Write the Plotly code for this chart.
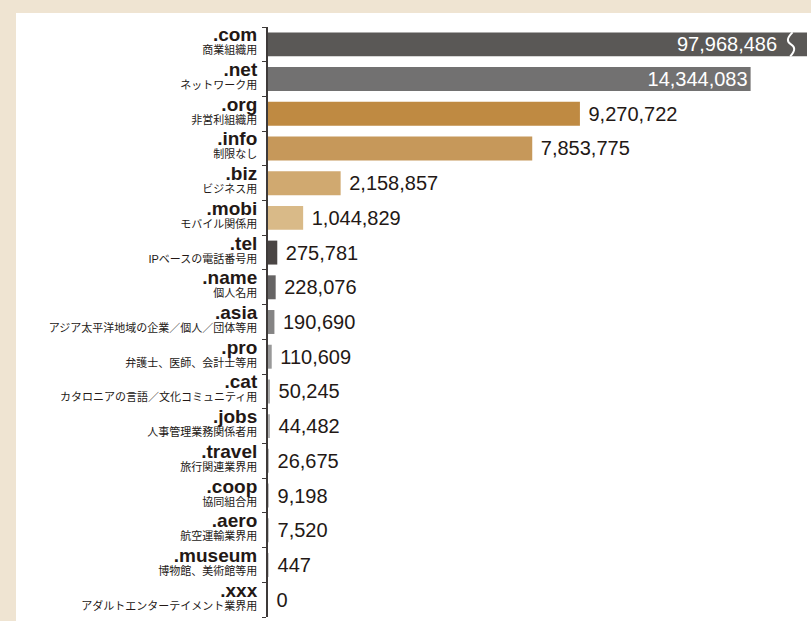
import plotly.graph_objects as go

domains = [".com", ".net", ".org", ".info", ".biz", ".mobi", ".tel", ".name", ".asia",
           ".pro", ".cat", ".jobs", ".travel", ".coop", ".aero", ".museum", ".xxx"]
descriptions = ["商業組織用", "ネットワーク用", "非営利組織用", "制限なし", "ビジネス用",
                "モバイル関係用", "IPベースの電話番号用", "個人名用",
                "アジア太平洋地域の企業／個人／団体等用", "弁護士、医師、会計士等用",
                "カタロニアの言語／文化コミュニティ用", "人事管理業務関係者用",
                "旅行関連業界用", "協同組合用", "航空運輸業界用", "博物館、美術館等用",
                "アダルトエンターテイメント業界用"]
counts = [97968486, 14344083, 9270722, 7853775, 2158857, 1044829, 275781, 228076,
          190690, 110609, 50245, 44482, 26675, 9198, 7520, 447, 0]
colors = ["#5a5856", "#727171", "#bf8a42", "#c6985a", "#d0a970", "#d9ba88",
          "#4a4544", "#666464", "#858484", "#999999", "#a8a8a8", "#b0b0b0",
          "#b8b8b8", "#bebebe", "#c4c4c4", "#cccccc", "#d0d0d0"]

X_MAX = 16.02e6
TEXT = "#231815"
BEIGE = "#efe4d2"
FONT = "Liberation Sans, Arial, Noto Sans CJK JP, sans-serif"
VAL_SIZE = 20

ticktext = [f"<span style='font-size:19px'><b>{d}</b></span><br>"
            f"<span style='font-size:11px'>{j}</span>" for d, j in zip(domains, descriptions)]

texts = []
positions = []
for i, v in enumerate(counts):
    if v > X_MAX:
        texts.append("")
        positions.append("none")
    elif i < 2:
        texts.append(f"{v:,}")
        positions.append("inside")
    else:
        texts.append(f" {v:,}")
        positions.append("outside")

fig = go.Figure(go.Bar(
    y=domains, x=counts, orientation="h",
    marker=dict(color=colors, line=dict(width=0)),
    text=texts, textposition=positions,
    insidetextanchor="end",
    insidetextfont=dict(color="white", size=VAL_SIZE, family=FONT),
    outsidetextfont=dict(color=TEXT, size=VAL_SIZE, family=FONT),
    cliponaxis=False, hoverinfo="skip",
))

W, H = 811, 621
ml, mr, mt, mb = 268, 4, 27, 4
pw, ph = W - ml - mr, H - mt - mb

def px2paper_x(px):
    return (px - ml) / pw

def px2paper_y(py):
    return 1 - (py - mt) / ph

shapes = [dict(type="rect", xref="paper", yref="paper", layer="below",
               x0=px2paper_x(16), x1=px2paper_x(W + 10),
               y0=px2paper_y(H + 10), y1=px2paper_y(13),
               fillcolor="white", line=dict(width=0))]

annotations = []
n = len(domains)
bargap = 0.31
for i, v in enumerate(counts):
    if v > X_MAX:
        yc = 1 - (i + 0.5) / n
        half = (1 - bargap) / n / 2
        annotations.append(dict(x=px2paper_x(779), xref="paper", y=domains[i], yref="y",
                                text=f"{v:,}", showarrow=False, xanchor="right",
                                font=dict(color="white", size=VAL_SIZE, family=FONT)))
        xa = px2paper_x(791)
        xs = 4 / pw
        yt, yb = yc + half, yc - half
        hh = yt - yb
        path = (f"M {xa+0.4*xs},{yt} "
                f"C {xa-1.2*xs},{yt-0.25*hh} {xa-1.0*xs},{yt-0.4*hh} {xa},{yc} "
                f"C {xa+1.0*xs},{yb+0.4*hh} {xa+1.2*xs},{yb+0.25*hh} {xa-0.2*xs},{yb}")
        shapes.append(dict(type="path", xref="paper", yref="paper", path=path,
                           line=dict(color="white", width=2)))

fig.update_layout(
    width=W, height=H,
    margin=dict(l=ml, r=mr, t=mt, b=mb, pad=0, autoexpand=False),
    paper_bgcolor=BEIGE, plot_bgcolor="rgba(0,0,0,0)",
    bargap=bargap, showlegend=False,
    font=dict(family=FONT, color=TEXT),
    uniformtext=dict(minsize=VAL_SIZE, mode="show"),
    shapes=shapes, annotations=annotations,
    xaxis=dict(range=[0, X_MAX], visible=False, fixedrange=True, automargin=False),
    yaxis=dict(autorange="reversed", tickmode="array", tickvals=domains, ticktext=ticktext,
               tickson="boundaries", ticks="outside", ticklen=4, tickcolor="#3e3a39",
               showline=True, linecolor="#3e3a39", linewidth=1.5, automargin=False,
               tickfont=dict(size=10, color=TEXT, family=FONT),
               ticklabelstandoff=7, showgrid=False, zeroline=False, fixedrange=True),
)

fig.write_html(
    "out.html",
    config={"displayModeBar": False},
    post_script=("document.body.style.margin='0';"
                 "document.body.style.overflow='hidden';"
                 f"document.body.style.background='{BEIGE}';"),
)
